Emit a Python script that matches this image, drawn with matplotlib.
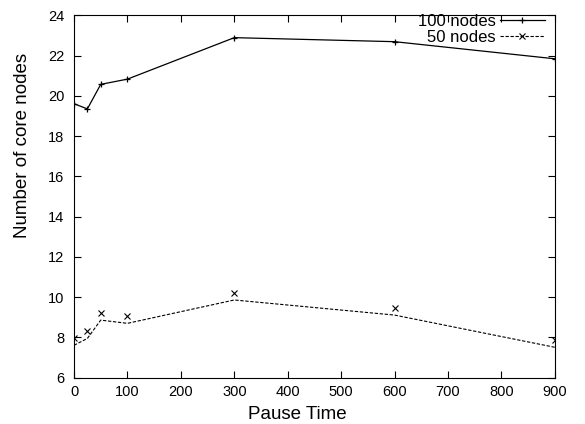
import matplotlib.pyplot as plt
from matplotlib.lines import Line2D

plt.rcParams['font.family'] = ['Liberation Sans', 'DejaVu Sans']

pause = [0, 25, 50, 100, 300, 600, 900]
# 100 nodes
core_100 = [19.61, 19.35, 20.57, 20.83, 22.89, 22.69, 21.84]
# 50 nodes: punkty pomiarowe i linia przerywana
core_50_pts = [7.95, 8.33, 9.22, 9.05, 10.22, 9.48, 7.88]
core_50_line = [7.61, 7.95, 8.86, 8.70, 9.86, 9.11, 7.51]

fig = plt.figure(figsize=(5.85, 4.24), dpi=100)
ax = fig.add_axes([0.1265, 0.1092, 0.822, 0.8547])

ax.plot(pause, core_100, color='black', lw=0.9, marker='+', ms=4, mew=0.9)
ax.plot(pause, core_50_line, color='black', lw=0.8, ls=(0, (3, 1.5)))
ax.plot(pause, core_50_pts, color='black', ls='none', marker='x', ms=4, mew=0.8)

ax.set_xlim(0, 900)
ax.set_ylim(6, 24)
ax.set_xticks(range(0, 901, 100))
ax.set_yticks(range(6, 25, 2))
ax.tick_params(direction='in', top=True, right=True, labelsize=10.5, length=5)
ax.tick_params(axis='y', pad=7)
ax.tick_params(axis='x', pad=5)
ax.set_xlabel("Pause Time", fontsize=13.5)
ax.set_ylabel("Number of core nodes", fontsize=13.5)
# gnuplot nie centruje etykiet osi
ax.xaxis.set_label_coords(0.465, -0.077)
ax.yaxis.set_label_coords(-0.09, 0.642)

h1 = Line2D([], [], color='black', lw=0.9, marker='+', ms=4, mew=0.9)
h2 = Line2D([], [], color='black', lw=0.8, ls=(0, (3, 1.5)), marker='x', ms=4, mew=0.8)
ax.legend([h1, h2], ["100 nodes", "50 nodes"], loc='upper right', frameon=False,
          markerfirst=False, handlelength=2.7, handletextpad=0.25, fontsize=12,
          borderaxespad=0, borderpad=0, labelspacing=0.05,
          bbox_to_anchor=(0.979, 1.004))

plt.savefig("out.png", dpi=100)
